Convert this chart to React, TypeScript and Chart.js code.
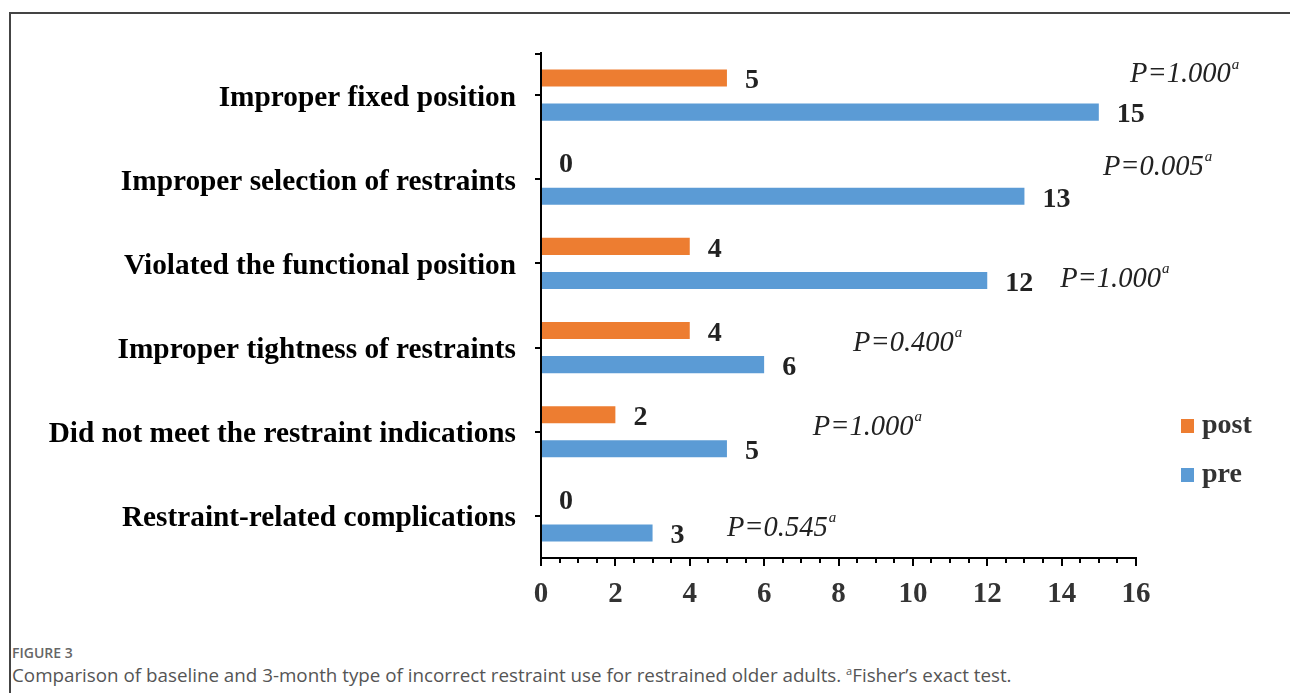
import React, { useEffect, useRef } from "react";
import { Chart, registerables } from "chart.js";

Chart.register(...registerables);

const categories = [
  "Improper fixed position",
  "Improper selection of restraints",
  "Violated the functional position",
  "Improper tightness of restraints",
  "Did not meet the restraint indications",
  "Restraint-related complications",
];
const postValues = [5, 0, 4, 4, 2, 0];
const preValues = [15, 13, 12, 6, 5, 3];
const seriesNames = ["post", "pre"];
const pValues = ["1.000", "0.005", "1.000", "0.400", "1.000", "0.545"];
// annotation anchors: x in data units, y as fraction of a category step
const pAnchorX = [15.84, 15.11, 13.96, 8.39, 7.31, 5.0];
const pAnchorShift = [-0.24, -0.14, 0.19, -0.05, -0.05, 0.15];
const xMin = 0;
const xMax = 16;
const xStep = 0.5;
const xLabelEvery = 2;

const ORANGE = "#ED7D31";
const BLUE = "#5B9BD5";
const SERIF = '"Liberation Serif", "Times New Roman", serif';

const overlayPlugin = {
  id: "overlay",
  afterDatasetsDraw(chart: any) {
    const ctx = chart.ctx;
    const xs = chart.scales.x;
    const ys = chart.scales.y;
    const area = chart.chartArea;
    ctx.save();

    // minor ticks on x axis
    ctx.strokeStyle = "#000";
    ctx.lineWidth = 2;
    for (let v = xMin; v <= xMax + 1e-9; v += xStep) {
      if (Math.abs(v % xLabelEvery) < 1e-9) continue;
      const px = Math.round(xs.getPixelForValue(v));
      ctx.beginPath();
      ctx.moveTo(px, area.bottom);
      ctx.lineTo(px, area.bottom + 5);
      ctx.stroke();
    }
    // hook at top of y axis
    ctx.beginPath();
    ctx.moveTo(area.left - 6, area.top + 1);
    ctx.lineTo(area.left, area.top + 1);
    ctx.stroke();

    // value labels
    ctx.font = `bold 28px ${SERIF}`;
    ctx.fillStyle = "#222";
    ctx.textAlign = "left";
    ctx.textBaseline = "middle";
    chart.data.datasets.forEach((ds: any, di: number) => {
      const meta = chart.getDatasetMeta(di);
      meta.data.forEach((bar: any, i: number) => {
        ctx.fillText(String(ds.data[i]), bar.x + 18, bar.y + 3);
      });
    });

    // p-value annotations
    const step = ys.getPixelForValue(1) - ys.getPixelForValue(0);
    pValues.forEach((p, i) => {
      const x = xs.getPixelForValue(pAnchorX[i]);
      const y = ys.getPixelForValue(i) + pAnchorShift[i] * step;
      ctx.font = `italic 28.5px ${SERIF}`;
      ctx.fillStyle = "#222";
      ctx.textBaseline = "middle";
      const txt = "P=" + p;
      ctx.fillText(txt, x, y);
      const w = ctx.measureText(txt).width;
      ctx.font = `italic 15px ${SERIF}`;
      ctx.fillText("a", x + w + 1, y - 10);
    });

    // legend
    const lx = area.right + 45;
    const lys = [426, 475];
    chart.data.datasets.forEach((ds: any, di: number) => {
      const cy = lys[di];
      ctx.fillStyle = ds.backgroundColor;
      ctx.fillRect(lx, cy - 7, 13, 14);
      ctx.font = `bold 28px ${SERIF}`;
      ctx.fillStyle = "#333";
      ctx.textBaseline = "middle";
      ctx.fillText(ds.label, lx + 21, cy);
    });
    ctx.restore();
  },
};

export default function App() {
  const ref = useRef<HTMLCanvasElement>(null);
  useEffect(() => {
    if (!ref.current) return;
    const chart = new Chart(ref.current, {
      type: "bar",
      data: {
        labels: categories,
        datasets: [
          { label: seriesNames[0], data: postValues, backgroundColor: ORANGE, categoryPercentage: 0.81, barPercentage: 0.5 },
          { label: seriesNames[1], data: preValues, backgroundColor: BLUE, categoryPercentage: 0.81, barPercentage: 0.5 },
        ],
      },
      options: {
        indexAxis: "y",
        animation: false,
        responsive: false,
        devicePixelRatio: 1,
        layout: { padding: { top: 53, right: 154, left: 0, bottom: 0 } },
        plugins: { legend: { display: false }, tooltip: { enabled: false } },
        scales: {
          y: {
            type: "category",
            offset: true,
            afterFit: (s: any) => { s.width = 541; },
            grid: { offset: false, drawOnChartArea: false, tickLength: 6, color: "#000", lineWidth: 2 },
            border: { display: true, color: "#000", width: 2 },
            ticks: { color: "#000", padding: 19, labelOffset: 3, font: { family: SERIF, size: 29.3, weight: "bold" } },
          },
          x: {
            type: "linear",
            min: xMin,
            max: xMax,
            afterFit: (s: any) => { s.height = 640 - 558; },
            afterBuildTicks: (s: any) => {
              const t = [];
              for (let v = xMin; v <= xMax + 1e-9; v += xLabelEvery) t.push({ value: v });
              s.ticks = t;
            },
            grid: { drawOnChartArea: false, tickLength: 8, color: "#000", lineWidth: 2 },
            border: { display: true, color: "#000", width: 2 },
            ticks: { color: "#333", padding: 11, autoSkip: false, maxRotation: 0, font: { family: SERIF, size: 29, weight: "bold" } },
          },
        },
      },
      plugins: [overlayPlugin],
    });
    return () => chart.destroy();
  }, []);

  return (
    <div style={{ position: "fixed", left: 0, top: 0, width: 1290, height: 693, overflow: "hidden", background: "#fff" }}>
      <div style={{ position: "absolute", left: 9, top: 12, width: 1400, height: 800, borderLeft: "2px solid #444", borderTop: "2px solid #444" }} />
      <canvas ref={ref} width={1290} height={640} style={{ position: "absolute", left: 0, top: 0, width: 1290, height: 640 }} />
      <div style={{ position: "absolute", left: 12, top: 643, fontFamily: '"Open Sans", sans-serif', fontSize: 14, fontWeight: 600, color: "#666", lineHeight: "20px" }}>
        FIGURE 3
      </div>
      <div style={{ position: "absolute", left: 12, top: 662, fontFamily: '"Open Sans", sans-serif', fontSize: 18.8, fontWeight: 400, color: "#555", lineHeight: "26px", whiteSpace: "nowrap" }}>
        Comparison of baseline and 3-month type of incorrect restraint use for restrained older adults. <sup style={{ fontSize: 11, lineHeight: 0 }}>a</sup>Fisher’s exact test.
      </div>
    </div>
  );
}
